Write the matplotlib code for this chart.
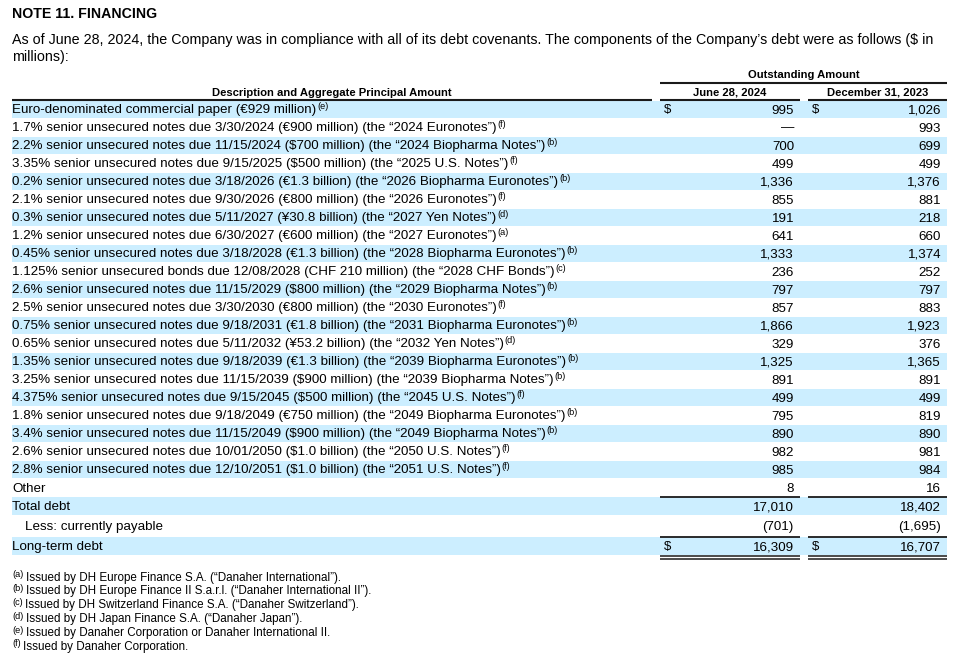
import matplotlib
matplotlib.use("Agg")
import matplotlib.pyplot as plt
from matplotlib.patches import Rectangle

plt.rcParams['font.family'] = ['Liberation Sans', 'DejaVu Sans']

# ---------------- data ----------------
title = "NOTE 11. FINANCING"
intro_lines = [
    "As of June 28, 2024, the Company was in compliance with all of its debt covenants. The components of the Company\u2019s debt were as follows ($ in",
    "millions):",
]
group_header = "Outstanding Amount"
col_headers = ["Description and Aggregate Principal Amount", "June 28, 2024", "December 31, 2023"]

descriptions = [
    "Euro-denominated commercial paper (\u20ac929 million)",
    "1.7% senior unsecured notes due 3/30/2024 (\u20ac900 million) (the \u201c2024 Euronotes\u201d)",
    "2.2% senior unsecured notes due 11/15/2024 ($700 million) (the \u201c2024 Biopharma Notes\u201d)",
    "3.35% senior unsecured notes due 9/15/2025 ($500 million) (the \u201c2025 U.S. Notes\u201d)",
    "0.2% senior unsecured notes due 3/18/2026 (\u20ac1.3 billion) (the \u201c2026 Biopharma Euronotes\u201d)",
    "2.1% senior unsecured notes due 9/30/2026 (\u20ac800 million) (the \u201c2026 Euronotes\u201d)",
    "0.3% senior unsecured notes due 5/11/2027 (\u00a530.8 billion) (the \u201c2027 Yen Notes\u201d)",
    "1.2% senior unsecured notes due 6/30/2027 (\u20ac600 million) (the \u201c2027 Euronotes\u201d)",
    "0.45% senior unsecured notes due 3/18/2028 (\u20ac1.3 billion) (the \u201c2028 Biopharma Euronotes\u201d)",
    "1.125% senior unsecured bonds due 12/08/2028 (CHF 210 million) (the \u201c2028 CHF Bonds\u201d)",
    "2.6% senior unsecured notes due 11/15/2029 ($800 million) (the \u201c2029 Biopharma Notes\u201d)",
    "2.5% senior unsecured notes due 3/30/2030 (\u20ac800 million) (the \u201c2030 Euronotes\u201d)",
    "0.75% senior unsecured notes due 9/18/2031 (\u20ac1.8 billion) (the \u201c2031 Biopharma Euronotes\u201d)",
    "0.65% senior unsecured notes due 5/11/2032 (\u00a553.2 billion) (the \u201c2032 Yen Notes\u201d)",
    "1.35% senior unsecured notes due 9/18/2039 (\u20ac1.3 billion) (the \u201c2039 Biopharma Euronotes\u201d)",
    "3.25% senior unsecured notes due 11/15/2039 ($900 million) (the \u201c2039 Biopharma Notes\u201d)",
    "4.375% senior unsecured notes due 9/15/2045 ($500 million) (the \u201c2045 U.S. Notes\u201d)",
    "1.8% senior unsecured notes due 9/18/2049 (\u20ac750 million) (the \u201c2049 Biopharma Euronotes\u201d)",
    "3.4% senior unsecured notes due 11/15/2049 ($900 million) (the \u201c2049 Biopharma Notes\u201d)",
    "2.6% senior unsecured notes due 10/01/2050 ($1.0 billion) (the \u201c2050 U.S. Notes\u201d)",
    "2.8% senior unsecured notes due 12/10/2051 ($1.0 billion) (the \u201c2051 U.S. Notes\u201d)",
    "Other",
    "Total debt",
    "Less: currently payable",
    "Long-term debt",
]
superscripts = ["e", "f", "b", "f", "b", "f", "d", "a", "b", "c", "b", "f", "b", "d",
                "b", "b", "f", "b", "b", "f", "f", "", "", "", ""]
june_2024 = [995, None, 700, 499, 1336, 855, 191, 641, 1333, 236, 797, 857, 1866, 329,
             1325, 891, 499, 795, 890, 982, 985, 8, 17010, -701, 16309]
dec_2023 = [1026, 993, 699, 499, 1376, 881, 218, 660, 1374, 252, 797, 883, 1923, 376,
            1365, 891, 499, 819, 890, 981, 984, 16, 18402, -1695, 16707]
dollar_rows = [0, 24]
indent_rows = [23]

footnote_keys = ["a", "b", "c", "d", "e", "f"]
footnotes = [
    "Issued by DH Europe Finance S.A. (\u201cDanaher International\u201d).",
    "Issued by DH Europe Finance II S.a.r.l. (\u201cDanaher International II\u201d).",
    "Issued by DH Switzerland Finance S.A. (\u201cDanaher Switzerland\u201d).",
    "Issued by DH Japan Finance S.A. (\u201cDanaher Japan\u201d).",
    "Issued by Danaher Corporation or Danaher International II.",
    "Issued by Danaher Corporation.",
]

# ---------------- layout ----------------
W, H = 958, 657
SHADE = "#CCEEFF"
LINE = "#1a1a1a"
TXT = "#000000"

row_heights = [18] * 22 + [19, 21, 19]
table_top = 100
left, right = 12, 947
c1_l, c1_r = 660, 800
c2_l, c2_r = 808, 947
desc_r = 652

fs_body = 9.6
fs_sup = 6.6
fs_head = 8.15
fs_foot = 8.4


def fmt(v):
    if v is None:
        return "\u2014"
    if v < 0:
        return "({:,})".format(-v)
    return "{:,}".format(v)


fig = plt.figure(figsize=(W / 100, H / 100), dpi=100)
ax = fig.add_axes([0, 0, 1, 1])
ax.set_xlim(0, W)
ax.set_ylim(H, 0)
ax.axis("off")

ax.text(12, 14.5, title, fontsize=10.2, fontweight="bold", va="center", ha="left", color=TXT)
for k, line in enumerate(intro_lines):
    ax.text(12, 40 + 17 * k, line, fontsize=10.25, va="center", ha="left", color=TXT, parse_math=False)

# headers
ax.text((c1_l + c2_r) / 2, 75.5, group_header, fontsize=fs_head, fontweight="bold", ha="center", va="center")
ax.plot([c1_l, c2_r], [83, 83], color=LINE, lw=1.5, solid_capstyle="butt")
ax.text((left + desc_r) / 2, 92.5, col_headers[0], fontsize=fs_head, fontweight="bold", ha="center", va="center")
ax.text((c1_l + c1_r) / 2, 92.5, col_headers[1], fontsize=fs_head, fontweight="bold", ha="center", va="center")
ax.text((c2_l + c2_r) / 2, 92.5, col_headers[2], fontsize=fs_head, fontweight="bold", ha="center", va="center")
for a, b in [(left, desc_r), (c1_l, c1_r), (c2_l, c2_r)]:
    ax.plot([a, b], [100, 100], color=LINE, lw=1.5, solid_capstyle="butt")

# rows
tops = []
y = table_top
for h in row_heights:
    tops.append(y)
    y += h

desc_texts = []
for i, d in enumerate(descriptions):
    top, h = tops[i], row_heights[i]
    cy = top + h / 2 + 1.5
    if i % 2 == 0:
        ax.add_patch(Rectangle((left, top + 0.8), right - left, h - 0.8, facecolor=SHADE, edgecolor="none", zorder=0))
    x0 = 25 if i in indent_rows else 12
    t = ax.text(x0, cy, d, fontsize=fs_body, ha="left", va="center", color=TXT, parse_math=False)
    desc_texts.append((t, i, cy))
    ax.text(c1_r - 6, cy, fmt(june_2024[i]), fontsize=fs_body, ha="right", va="center", color=TXT)
    ax.text(c2_r - 6, cy, fmt(dec_2023[i]), fontsize=fs_body, ha="right", va="center", color=TXT)
    if i in dollar_rows:
        ax.text(c1_l + 4, cy, "$", fontsize=fs_body, ha="left", va="center", color=TXT, parse_math=False)
        ax.text(c2_l + 4, cy, "$", fontsize=fs_body, ha="left", va="center", color=TXT, parse_math=False)

# total lines
for a, b in [(c1_l, c1_r), (c2_l, c2_r)]:
    ax.plot([a, b], [tops[22] + 1, tops[22] + 1], color=LINE, lw=1.3, solid_capstyle="butt")
    ax.plot([a, b], [tops[24] + 0.5, tops[24] + 0.5], color=LINE, lw=1.3, solid_capstyle="butt")
    ax.plot([a, b], [556, 556], color=LINE, lw=1.1, solid_capstyle="butt")
    ax.plot([a, b], [558.7, 558.7], color=LINE, lw=1.1, solid_capstyle="butt")

# footnotes
foot_sup = []
for k, (key, note) in enumerate(zip(footnote_keys, footnotes)):
    cy = 577.5 + 13.9 * k
    s = ax.text(12, cy - 3, "(" + key + ")", fontsize=6.6, ha="left", va="center", color=TXT)
    foot_sup.append((s, note, cy))

fig.canvas.draw()
r = fig.canvas.get_renderer()
for t, i, cy in desc_texts:
    if superscripts[i]:
        bb = t.get_window_extent(r)
        ax.text(bb.x1 + 0.8, cy - 4, "(" + superscripts[i] + ")", fontsize=fs_sup, ha="left", va="center", color=TXT)
for s, note, cy in foot_sup:
    bb = s.get_window_extent(r)
    ax.text(bb.x1 + 2.5, cy, note, fontsize=fs_foot, ha="left", va="center", color=TXT, parse_math=False)

fig.savefig("out.png", dpi=100)
